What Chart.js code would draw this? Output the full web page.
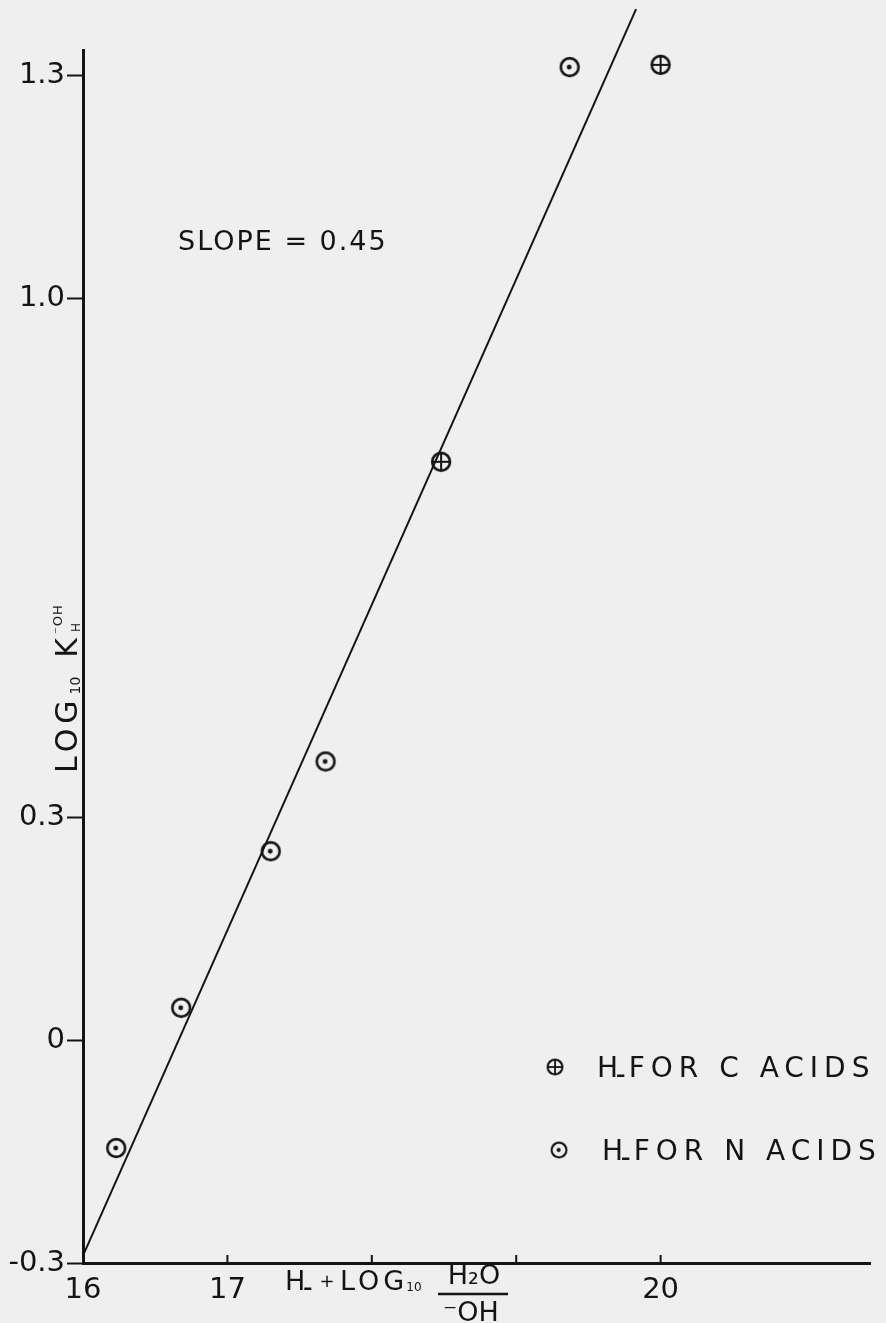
<!DOCTYPE html>
<html>
<head>
<meta charset="utf-8">
<title>LOG K vs H- + LOG H2O/OH</title>
<script src="https://cdn.jsdelivr.net/npm/chart.js@4.4.1/dist/chart.umd.min.js"></script>
<style>
  html, body { margin: 0; padding: 0; background: #efefef; }
  #wrap { width: 886px; height: 1323px; position: relative; }
</style>
</head>
<body>
<div id="wrap"><canvas id="chart"></canvas></div>
<script>
// Valeurs
const nAcidsX = [16.23, 16.68, 17.30, 17.68, 19.37];
const nAcidsY = [-0.145, 0.044, 0.255, 0.376, 1.312];
const cAcidsX = [18.48, 20.0];
const cAcidsY = [0.78, 1.315];
const fitX = [16.0, 19.83];
const fitY = [-0.29, 1.39];

const xTickValues = [16, 17, 18, 19, 20];
const xTickLabels = ['16', '17', '', '', '20'];
const yTickValues = [-0.3, 0, 0.3, 1.0, 1.3];
const yTickLabels = ['-0.3', '0', '0.3', '1.0', '1.3'];

const slopeText = 'SLOPE = 0.45';
const legendLabels = ['H₋FOR C ACIDS', 'H₋FOR N ACIDS'];

const INK = '#141414';
const FONT = '"DejaVu Sans", sans-serif';

// Symboles des points (cercle + point, cercle + croix)
function makeMarker(kind) {
    const c = document.createElement('canvas');
    c.width = 24;
    c.height = 24;
    const g = c.getContext('2d');
    g.strokeStyle = INK;
    g.fillStyle = INK;
    g.lineWidth = 2.6;
    g.beginPath();
    g.arc(12, 12, 8.9, 0, Math.PI * 2);
    g.stroke();
    if (kind === 'dot') {
        g.beginPath();
        g.arc(11.5, 12, 2.4, 0, Math.PI * 2);
        g.fill();
    } else {
        g.lineWidth = 2;
        g.beginPath();
        g.moveTo(3.5, 12); g.lineTo(20.5, 12);
        g.moveTo(12, 3.5); g.lineTo(12, 20.5);
        g.stroke();
    }
    return c;
}
const dotMarker = makeMarker('dot');
const plusMarker = makeMarker('plus');

function toPoints(xs, ys) {
    return xs.map((x, i) => ({ x: x, y: ys[i] }));
}

function drawText(ctx, text, x, y, size, spacing) {
    ctx.font = size + 'px ' + FONT;
    ctx.letterSpacing = spacing + 'px';
    ctx.fillText(text, x, y);
    const w = ctx.measureText(text).width;
    ctx.letterSpacing = '0px';
    return w;
}

// Texte avec le "H-" de l'acidité : le tiret est posé sur la ligne de base
function drawHMinus(ctx, text, x, y, size, spacing) {
    const parts = text.split('₋');
    let w = drawText(ctx, parts[0], x, y, size, 0);
    ctx.fillRect(x + w - 1, y - 2.5, size * 0.26, 2.5);
    w += size * 0.38;
    if (parts[1]) {
        w += drawText(ctx, parts[1], x + w, y, size, spacing);
    }
    return w;
}

// Titre de l'axe y : LOG10 K(OH, H), écrit de bas en haut
function drawYTitle(ctx) {
    ctx.save();
    ctx.translate(77, 773);
    ctx.rotate(-Math.PI / 2);
    let x = drawText(ctx, 'LOG', 0, 0, 30, 5);
    x += drawText(ctx, '10', x + 1, 3, 14, 0) + 20;
    x += drawText(ctx, 'K', x, 0, 30, 0) + 4;
    drawText(ctx, '⁻OH', x, -15, 13, 1);
    drawText(ctx, 'H', x + 2, 3, 12, 0);
    ctx.restore();
}

// Titre de l'axe x : H- + LOG10 (H2O / -OH)
function drawXTitle(ctx) {
    ctx.save();
    const w = drawHMinus(ctx, 'H₋', 285, 1290, 27, 0);
    drawText(ctx, '+', 285 + w + 4, 1287, 18, 0);
    const wl = drawText(ctx, 'LOG', 340, 1290, 27, 4);
    drawText(ctx, '10', 340 + wl - 2, 1291, 12, 0);
    ctx.textAlign = 'center';
    drawText(ctx, 'H₂O', 474, 1284, 27, 0);
    drawText(ctx, '⁻OH', 471, 1321, 27, 0);
    ctx.lineWidth = 2.5;
    ctx.beginPath();
    ctx.moveTo(438, 1294);
    ctx.lineTo(508, 1294);
    ctx.stroke();
    ctx.restore();
}

const annotations = {
    id: 'annotations',
    afterDraw(chart) {
        const { ctx, chartArea, scales } = chart;
        ctx.save();
        ctx.fillStyle = INK;
        ctx.strokeStyle = INK;

        // graduations de l'axe x tournées vers l'intérieur
        ctx.lineWidth = 2;
        xTickValues.slice(1).forEach(v => {
            const px = scales.x.getPixelForValue(v);
            ctx.beginPath();
            ctx.moveTo(px, chartArea.bottom);
            ctx.lineTo(px, chartArea.bottom - 8);
            ctx.stroke();
        });

        drawText(ctx, slopeText, 178, 250, 27, 2);
        drawYTitle(ctx);
        drawXTitle(ctx);

        // légende
        ctx.drawImage(plusMarker, 545, 1057, 20, 20);
        drawHMinus(ctx, legendLabels[0], 597, 1077, 28, 6);
        ctx.drawImage(dotMarker, 549, 1140, 20, 20);
        drawHMinus(ctx, legendLabels[1], 602, 1160, 28, 6);
        ctx.restore();
    }
};

new Chart(document.getElementById('chart'), {
    type: 'scatter',
    data: {
        datasets: [
            {
                label: 'fit',
                data: toPoints(fitX, fitY),
                showLine: true,
                borderColor: INK,
                borderWidth: 2,
                pointRadius: 0,
                clip: false
            },
            {
                label: 'C acids',
                data: toPoints(cAcidsX, cAcidsY),
                pointStyle: plusMarker
            },
            {
                label: 'N acids',
                data: toPoints(nAcidsX, nAcidsY),
                pointStyle: dotMarker
            }
        ]
    },
    options: {
        responsive: true,
        maintainAspectRatio: false,
        animation: false,
        layout: { padding: { left: 0, right: 16, top: 50, bottom: 0 } },
        plugins: {
            legend: { display: false },
            tooltip: { enabled: false }
        },
        scales: {
            x: {
                type: 'linear',
                min: 16,
                max: 21.45,
                afterBuildTicks: scale => {
                    scale.ticks = xTickValues.map(v => ({ value: v }));
                },
                afterFit: scale => { scale.height = 60; },
                border: { display: true, color: INK, width: 3 },
                grid: { display: true, drawOnChartArea: false, drawTicks: false },
                ticks: {
                    color: INK,
                    padding: 10,
                    maxRotation: 0,
                    autoSkip: false,
                    font: { family: FONT, size: 29 },
                    callback: (value, i) => xTickLabels[i]
                }
            },
            y: {
                type: 'linear',
                min: -0.3,
                max: 1.335,
                afterBuildTicks: scale => {
                    scale.ticks = yTickValues.map(v => ({ value: v }));
                },
                afterFit: scale => { scale.width = 83; },
                border: { display: true, color: INK, width: 3 },
                grid: {
                    display: true,
                    drawOnChartArea: false,
                    drawTicks: true,
                    tickLength: 16,
                    tickWidth: 2,
                    tickColor: INK
                },
                ticks: {
                    color: INK,
                    padding: 2,
                    autoSkip: false,
                    font: { family: FONT, size: 29 },
                    callback: (value, i) => yTickLabels[i]
                }
            }
        }
    },
    plugins: [annotations]
});
</script>
</body>
</html>
